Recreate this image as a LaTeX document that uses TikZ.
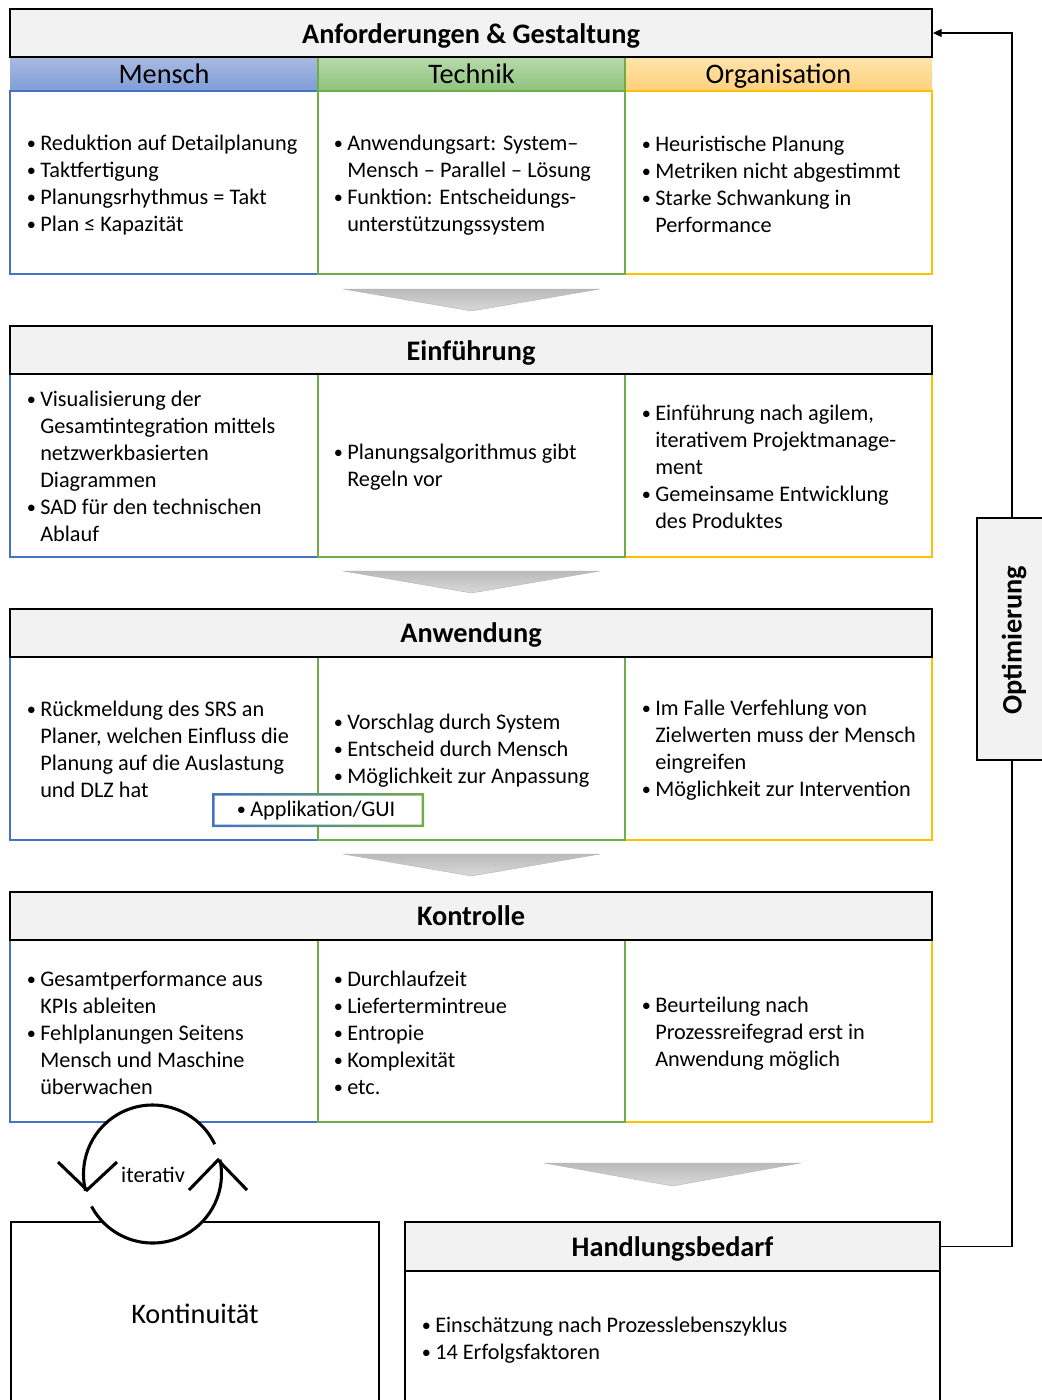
\documentclass[tikz,border=0pt]{standalone}
\usepackage{fontspec}
\usepackage{graphicx}
\setmainfont{Carlito}
\usetikzlibrary{arrows.meta}
\definecolor{mblue}{HTML}{4472C4}
\definecolor{tgreen}{HTML}{70AD47}
\definecolor{ogold}{HTML}{FFC000}
\definecolor{boxgray}{HTML}{F2F2F2}
\definecolor{mtop}{HTML}{AABAE2}
\definecolor{mbot}{HTML}{7F9DD7}
\definecolor{ttop}{HTML}{B8D9AB}
\definecolor{tbot}{HTML}{8FC47D}
\definecolor{otop}{HTML}{FFE4AC}
\definecolor{obot}{HTML}{FFD07A}
\newcommand{\bul}{\makebox[11.25pt][l]{\hspace{1.2pt}\raisebox{0.05em}{\scalebox{0.82}{•}}}}
\newcommand{\cont}{\hspace*{11.25pt}}
\begin{document}
\begin{tikzpicture}[x=0.75pt,y=-0.75pt,
  titlebox/.style={draw=black, line width=1.5pt, fill=boxgray, inner sep=0pt,
    minimum width=691.5pt, minimum height=36pt, text height=15pt, text depth=0pt,
    font=\fontsize{21.2}{25}\selectfont\bfseries},
  colhead/.style={font=\fontsize{21.2}{25}\selectfont, text height=15pt, text depth=1pt},
  bodytext/.style={font=\fontsize{16.7}{20.25}\selectfont, align=left, inner sep=0pt, anchor=west},
  cellM/.style={draw=mblue, line width=1.5pt},
  cellT/.style={draw=tgreen, line width=1.5pt},
  cellO/.style={draw=ogold, line width=1.5pt},
  chevron/.style={top color=black!27, bottom color=black!15, draw=black!30, line width=0.3pt},
  iterline/.style={line width=2.3pt, black},
  feedback/.style={line width=0.9pt, black}
]
\useasboundingbox (0,0) rectangle (1042,1400);

% ---------- Anforderungen & Gestaltung ----------
\shade[top color=mtop, bottom color=mbot] (10,57) rectangle (318,91);
\shade[top color=ttop, bottom color=tbot] (318,57) rectangle (625,91);
\shade[top color=otop, bottom color=obot] (625,57) rectangle (932,91);
\draw[tgreen, line width=1pt] (318,57) -- (318,91);
\draw[tgreen, line width=1pt] (625,57) -- (625,91);
\node[colhead] (hm) at (164,74) {Mensch};
\node[colhead] (ht) at (471.5,74) {Technik};
\node[colhead] (ho) at (778.5,74) {Organisation};

\draw[cellM] (10,91) rectangle (318,274);
\draw[cellO] (625,91) rectangle (932,274);
\draw[cellT] (318,91) rectangle (625,274);
\node[titlebox] (t1) at (471,33) {Anforderungen \& Gestaltung};

\node[bodytext] (a1) at (25,185) {\bul Reduktion auf Detailplanung\\ \bul Taktfertigung\\ \bul Planungsrhythmus = Takt\\ \bul Plan ≤ Kapazität};
\node[bodytext] (a2) at (332,185) {\bul Anwendungsart: System–\\ \cont Mensch – Parallel – Lösung\\ \bul Funktion: Entscheidungs-\\ \cont unterstützungssystem};
\node[bodytext] (a3) at (640,184) {\bul Heuristische Planung\\ \bul Metriken nicht abgestimmt\\ \bul Starke Schwankung in\\ \cont Performance};

\shade[chevron] (343,289) -- (600,289) -- (471.5,311) -- cycle;

% ---------- Einführung ----------
\draw[cellM] (10,374) rectangle (318,557);
\draw[cellO] (625,374) rectangle (932,557);
\draw[cellT] (318,374) rectangle (625,557);
\node[titlebox] (t2) at (471,350) {Einführung};

\node[bodytext] (b1) at (25,466) {\bul Visualisierung der\\ \cont Gesamtintegration mittels\\ \cont netzwerkbasierten\\ \cont Diagrammen\\ \bul SAD für den technischen\\ \cont Ablauf};
\node[bodytext] (b2) at (332,467.5) {\bul Planungsalgorithmus gibt\\ \cont Regeln vor};
\node[bodytext] (b3) at (640,467) {\bul Einführung nach agilem,\\ \cont iterativem Projektmanage-\\ \cont ment\\ \bul Gemeinsame Entwicklung\\ \cont des Produktes};

\shade[chevron] (343,571) -- (600,571) -- (471.5,593) -- cycle;

% ---------- Anwendung ----------
\draw[cellM] (10,657) rectangle (318,840);
\draw[cellO] (625,657) rectangle (932,840);
\draw[cellT] (318,657) rectangle (625,840);
\node[titlebox] (t3) at (471,632.5) {Anwendung};

\node[bodytext] (c1) at (25,749.5) {\bul Rückmeldung des SRS an\\ \cont Planer, welchen Einfluss die\\ \cont Planung auf die Auslastung\\ \cont und DLZ hat};
\node[bodytext] (c2) at (332,750.5) {\bul Vorschlag durch System\\ \bul Entscheid durch Mensch\\ \bul Möglichkeit zur Anpassung};
\node[bodytext] (c3) at (640,750) {\bul Im Falle Verfehlung von\\ \cont Zielwerten muss der Mensch\\ \cont eingreifen\\ \bul Möglichkeit zur Intervention};

% application frame, blue fading into green
\fill[white] (213,794) rectangle (423,826);
\shade[left color=mblue, right color=tgreen, even odd rule]
  (212,793) rectangle (424,827) (214.5,795.5) rectangle (421.5,824.5);
\node[font=\fontsize{16.7}{20.25}\selectfont, inner sep=0pt, anchor=west] (app) at (235,811) {\bul Applikation/GUI};

\shade[chevron] (343,854) -- (600,854) -- (471.5,876) -- cycle;

% ---------- Kontrolle ----------
\draw[cellM] (10,940) rectangle (318,1122);
\draw[cellO] (625,940) rectangle (932,1122);
\draw[cellT] (318,940) rectangle (625,1122);
\node[titlebox] (t4) at (471,915.5) {Kontrolle};

\node[bodytext] (d1) at (25,1033) {\bul Gesamtperformance aus\\ \cont KPIs ableiten\\ \bul Fehlplanungen Seitens\\ \cont Mensch und Maschine\\ \cont überwachen};
\node[bodytext] (d2) at (332,1032.5) {\bul Durchlaufzeit\\ \bul Liefertermintreue\\ \bul Entropie\\ \bul Komplexität\\ \bul etc.};
\node[bodytext] (d3) at (640,1034) {\bul Beurteilung nach\\ \cont Prozessreifegrad erst in\\ \cont Anwendung möglich};

\shade[chevron] (544,1163) -- (801,1163) -- (672.5,1186) -- cycle;

% ---------- Kontinuität ----------
\draw[line width=1.5pt, fill=white] (11,1222) rectangle (379,1430);
\node[colhead] (kont) at (195,1314) {Kontinuität};

% ---------- Handlungsbedarf ----------
\draw[line width=1.5pt, fill=white] (405,1271) rectangle (940,1430);
\node[titlebox, minimum width=401.25pt, minimum height=36.75pt] (hb) at (672.5,1246.5) {Handlungsbedarf};
\node[bodytext] (e1) at (420,1340.5) {\bul Einschätzung nach Prozesslebenszyklus\\ \bul 14 Erfolgsfaktoren};

% ---------- iteration cycle ----------
\coordinate (ic) at (152.5,1174);
\fill[white] (ic) circle[radius=51.75pt];
\draw[iterline] (ic) ++(25.6:51.75pt) arc[start angle=25.6, end angle=194, radius=51.75pt];
\draw[iterline] (ic) ++(208:51.75pt) arc[start angle=208, end angle=372, radius=51.75pt];
\draw[iterline] (58,1162) -- (87,1190) -- (117,1162);
\draw[iterline] (189,1190) -- (218,1160) -- (247,1190);
\node[font=\fontsize{16.7}{20.25}\selectfont, inner sep=0pt] (iter) at (153,1175) {iterativ};

% ---------- optimisation feedback ----------
\coordinate (fbx) at (1012,0);
\draw[feedback, -{Triangle[length=6.5pt,width=6pt]}]
  (hb.east) -- (hb.east -| fbx) -- (fbx |- t1.east) -- (t1.east);
\draw[line width=1.5pt, fill=boxgray] (977,518) rectangle (1060,760);
\node[rotate=90, font=\fontsize{21.2}{25}\selectfont\bfseries, inner sep=0pt] (opt) at (1014,640) {Optimierung};
\end{tikzpicture}
\end{document}
